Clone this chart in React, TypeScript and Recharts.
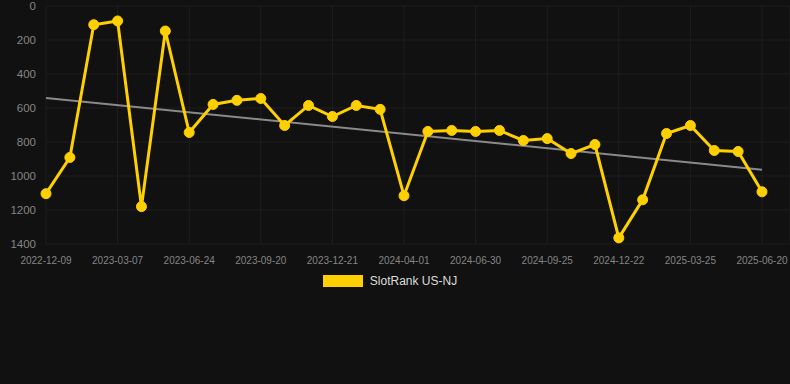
import { LineChart, Line, XAxis, YAxis, CartesianGrid, Legend, ReferenceLine } from "recharts";

const dates = [
  "2022-12-09", "2023-01-07", "2023-02-05", "2023-03-07", "2023-04-12", "2023-05-18",
  "2023-06-24", "2023-07-23", "2023-08-21", "2023-09-20", "2023-10-20", "2023-11-20",
  "2023-12-21", "2024-01-24", "2024-02-27", "2024-04-01", "2024-05-01", "2024-05-31",
  "2024-06-30", "2024-07-29", "2024-08-27", "2024-09-25", "2024-10-24", "2024-11-22",
  "2024-12-22", "2025-01-24", "2025-02-24", "2025-03-25", "2025-04-22", "2025-05-21",
  "2025-06-20",
];

const rank = [
  1104, 891, 110, 88, 1180, 147, 744, 579, 555, 544, 703, 585, 650, 585, 608, 1116,
  738, 732, 738, 732, 791, 780, 868, 815, 1364, 1140, 750, 703, 850, 856, 1093,
];

const tickLabels = [
  "2022-12-09", "2023-03-07", "2023-06-24", "2023-09-20", "2023-12-21", "2024-04-01",
  "2024-06-30", "2024-09-25", "2024-12-22", "2025-03-25", "2025-06-20",
];

const yTicks = [0, 200, 400, 600, 800, 1000, 1200, 1400];

// trend line ends (first and last date)
const trend = [541, 963];

const YELLOW = "#FFD000";
const FONT = "'Liberation Sans', Arial, sans-serif";

const data = dates.map((d, i) => ({ date: d, rank: rank[i] }));

function LegendBox() {
  return (
    <div style={{ display: "flex", justifyContent: "center", alignItems: "center", fontFamily: FONT, paddingRight: 10 }}>
      <span style={{ display: "inline-block", width: 40, height: 12, background: YELLOW, marginRight: 7 }} />
      <span style={{ color: "#dddddd", fontSize: 12 }}>SlotRank US-NJ</span>
    </div>
  );
}

export default function App() {
  return (
    <div style={{ position: "absolute", left: 0, top: 0, width: 790, height: 384, background: "#111111" }}>
      <LineChart width={790} height={384} data={data} margin={{ top: 6, right: 0, left: 0, bottom: 90 }}>
        <CartesianGrid stroke="#1f1f1f" strokeWidth={1} />
        <XAxis
          dataKey="date"
          ticks={tickLabels}
          interval={0}
          axisLine={false}
          tickLine={false}
          tickMargin={7}
          padding={{ left: 0, right: 28 }}
          tick={{ fill: "#858585", fontSize: 10, fontFamily: FONT }}
          height={30}
        />
        <YAxis
          reversed
          domain={[0, 1400]}
          ticks={yTicks}
          interval={0}
          width={46}
          axisLine={false}
          tickLine={false}
          tickMargin={4}
          tick={{ fill: "#858585", fontSize: 11.5, fontFamily: FONT }}
        />
        <ReferenceLine
          segment={[{ x: dates[0], y: trend[0] }, { x: dates[dates.length - 1], y: trend[1] }]}
          stroke="#8a8a8a"
          strokeWidth={2}
        />
        <Line
          type="linear"
          dataKey="rank"
          name="SlotRank US-NJ"
          stroke={YELLOW}
          strokeWidth={3}
          dot={{ r: 5, fill: YELLOW, stroke: YELLOW, strokeWidth: 1 }}
          isAnimationActive={false}
        />
        <Legend verticalAlign="bottom" height={20} content={() => <LegendBox />} />
      </LineChart>
    </div>
  );
}
